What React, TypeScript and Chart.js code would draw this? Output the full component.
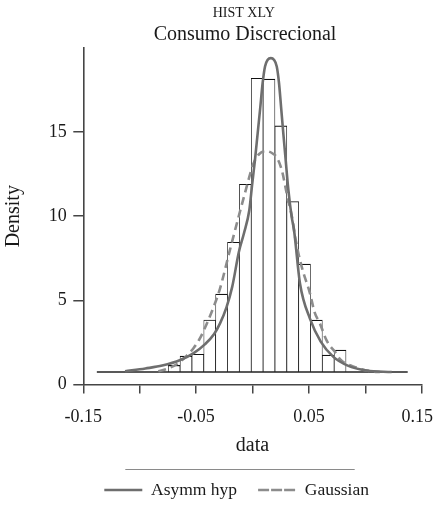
import React, { useEffect, useRef } from 'react';
import { Chart, registerables } from 'chart.js';

Chart.register(...registerables);

// trailing spaces only nudge the centred titles left, as in the reference
const chartTitle = 'HIST XLY     ';
const chartSubtitle = 'Consumo Discrecional   ';
const xAxisTitle = 'data';
const yAxisTitle = 'Density';
const seriesNames = ['Asymm hyp', 'Gaussian'];

// histogram bins (edges) and heights
const binEdges = [
  -0.0747, -0.0642, -0.0537, -0.0432, -0.0327, -0.0222, -0.0116, -0.0011,
  0.0094, 0.0199, 0.0304, 0.0409, 0.0514, 0.0619, 0.0724, 0.0829,
];
const binDensity = [
  1.13, 1.68, 1.79, 3.83, 5.37, 8.45, 11.9, 18.2, 18.15, 15.37, 10.87, 7.15, 3.82, 1.74, 2.04,
];
const histBase = 0.74;
const baselineX = [-0.138, 0.1376];

// fitted densities
const asymX = [
  -0.113, -0.095, -0.08, -0.064, -0.0525, -0.042, -0.034, -0.0288, -0.023, -0.018, -0.012,
  -0.0075, -0.0028, -0.0002, 0.0022, 0.0046, 0.0067, 0.009, 0.0111, 0.0135, 0.0163, 0.019,
  0.0215, 0.0235, 0.0253, 0.0273, 0.0294, 0.0318, 0.0347, 0.0368, 0.0421, 0.051, 0.0605,
  0.0717, 0.0845, 0.101, 0.1234,
];
const asymY = [
  0.78, 0.95, 1.12, 1.45, 1.85, 2.4, 3.0, 3.63, 4.6, 5.8, 7.9,
  9.0, 10.37, 11.96, 13.35, 14.94, 16.33, 17.92, 18.9, 19.3, 19.4, 19.3,
  18.9, 17.92, 16.52, 14.94, 13.35, 11.57, 9.98, 9.18, 6.0, 3.9, 2.55,
  1.64, 1.12, 0.83, 0.74,
];
const gaussX = [
  -0.0835, -0.075, -0.0672, -0.06, -0.0525, -0.0465, -0.0406, -0.0345, -0.0288, -0.02,
  -0.0126, -0.0067, 0.0007, 0.006, 0.0125, 0.0185, 0.0215, 0.0259, 0.0303, 0.0355, 0.0377,
  0.0436, 0.051, 0.055, 0.0599, 0.0658, 0.0747, 0.0776, 0.0924, 0.107, 0.113,
];
const gaussY = [
  0.78, 0.95, 1.2, 1.6, 2.14, 2.75, 3.6, 4.6, 5.7, 8.0,
  9.9, 11.37, 13.1, 13.7, 13.87, 13.7, 13.5, 12.76, 11.37, 9.78, 8.79,
  7.0, 5.4, 4.3, 3.6, 2.6, 1.8, 1.5, 1.0, 0.77, 0.74,
];

const xTickMarks = [-0.15, -0.1, -0.05, 0, 0.05, 0.1, 0.15];
const xTickValues = [-0.15, -0.05, 0.05, 0.15];
const xTickLabels = ['-0.15', '-0.05', '0.05', '0.15  '];
const yTickValues = [0, 5, 10, 15];
const yTickLabels = ['0', '5', '10', '15'];

const FONT = 'Liberation Serif';
const INK = '#1a1a1a';
const AXIS = '#454545';

const separatorPlugin = {
  id: 'legendSeparator',
  afterDraw(chart: any) {
    const lg = chart.legend;
    const ca = chart.chartArea;
    if (!lg || !ca) return;
    const ctx = chart.ctx;
    ctx.save();
    ctx.strokeStyle = '#8a8a8a';
    ctx.lineWidth = 1;
    ctx.beginPath();
    const y = Math.round(lg.top + 8.75) + 0.5;
    ctx.moveTo(ca.left + 42, y);
    ctx.lineTo(ca.right - 67, y);
    ctx.stroke();
    ctx.restore();
  },
};

function findLabel(values: number[], labels: string[], v: number) {
  const i = values.findIndex((t) => Math.abs(t - v) < 1e-9);
  return i >= 0 ? labels[i] : '';
}

export default function App() {
  const ref = useRef<HTMLCanvasElement | null>(null);

  useEffect(() => {
    document.body.style.margin = '0';
    document.body.style.overflow = 'hidden';
    if (!ref.current) return;

    const bars = binDensity.map((d, i) => ({
      x: (binEdges[i] + binEdges[i + 1]) / 2,
      y: [histBase, d],
    }));

    const chart = new Chart(ref.current, {
      type: 'bar',
      data: {
        datasets: [
          {
            type: 'line',
            label: seriesNames[0],
            data: asymX.map((x, i) => ({ x, y: asymY[i] })),
            borderColor: '#6e6e6e',
            backgroundColor: 'transparent',
            borderWidth: 2.6,
            pointRadius: 0,
            cubicInterpolationMode: 'monotone',
            fill: false,
          } as any,
          {
            type: 'line',
            label: seriesNames[1],
            data: gaussX.map((x, i) => ({ x, y: gaussY[i] })),
            borderColor: '#8c8c8c',
            backgroundColor: 'transparent',
            borderWidth: 2.6,
            borderDash: [8, 5],
            pointRadius: 0,
            cubicInterpolationMode: 'monotone',
            fill: false,
          } as any,
          {
            type: 'line',
            label: 'base',
            data: baselineX.map((x) => ({ x, y: histBase })),
            borderColor: '#222222',
            backgroundColor: 'transparent',
            borderWidth: 1.5,
            pointRadius: 0,
            fill: false,
          } as any,
          {
            type: 'bar',
            label: 'hist',
            data: bars as any,
            backgroundColor: '#ffffff',
            borderColor: '#111111',
            borderWidth: { top: 1.1, left: 0.75, right: 0.75, bottom: 0 },
            borderSkipped: false,
            barPercentage: 1,
            categoryPercentage: 1,
          } as any,
        ],
      },
      options: {
        responsive: false,
        animation: false,
        events: [],
        layout: {
          autoPadding: false,
          padding: { left: 0, right: 11.3, top: 0, bottom: -3.75 },
        },
        font: { family: FONT },
        color: INK,
        scales: {
          x: {
            type: 'linear',
            min: -0.15,
            max: 0.15,
            offset: false,
            afterBuildTicks: (scale: any) => {
              scale.ticks = xTickMarks.map((v) => ({ value: v }));
            },
            afterFit: (scale: any) => {
              scale.paddingLeft = 0;
              scale.paddingRight = 0;
            },
            grid: {
              offset: false,
              drawOnChartArea: false,
              drawTicks: true,
              tickLength: 9,
              color: AXIS,
              tickColor: AXIS,
              lineWidth: 1.5,
            },
            border: { display: true, color: AXIS, width: 1.6 },
            ticks: {
              autoSkip: false,
              maxRotation: 0,
              padding: 12.6,
              color: INK,
              font: { family: FONT, size: 18, lineHeight: 1.2 },
              callback: (v: any) => findLabel(xTickValues, xTickLabels, Number(v)),
            },
            title: {
              display: true,
              text: xAxisTitle,
              color: INK,
              font: { family: FONT, size: 20, lineHeight: 0.5 },
              padding: { top: 0, bottom: 10 },
            },
          },
          y: {
            type: 'linear',
            min: 0,
            max: 20,
            afterBuildTicks: (scale: any) => {
              scale.ticks = yTickValues.map((v) => ({ value: v }));
            },
            afterFit: (scale: any) => {
              scale.width = 83.3;
              scale.paddingTop = 0;
              scale.paddingBottom = 0;
            },
            grid: {
              drawOnChartArea: false,
              drawTicks: true,
              tickLength: 10,
              color: AXIS,
              tickColor: AXIS,
              lineWidth: 1.5,
            },
            border: { display: true, color: AXIS, width: 1.6 },
            ticks: {
              padding: 6.6,
              color: INK,
              font: { family: FONT, size: 18, lineHeight: 1.2 },
              callback: (v: any) => findLabel(yTickValues, yTickLabels, Number(v)),
            },
            title: {
              display: true,
              text: yAxisTitle,
              color: INK,
              font: { family: FONT, size: 20, lineHeight: 1.2 },
              padding: { top: 1.3, bottom: 0 },
            },
          },
        },
        plugins: {
          title: {
            display: true,
            text: chartTitle,
            fullSize: false,
            color: INK,
            font: { family: FONT, size: 14, weight: 'normal', lineHeight: 1.2 },
            padding: { top: 5.2, bottom: 0 },
          },
          subtitle: {
            display: true,
            text: chartSubtitle,
            fullSize: false,
            color: INK,
            font: { family: FONT, size: 20, weight: 'normal', lineHeight: 1.2 },
            padding: { top: 1, bottom: 1 },
          },
          legend: {
            display: true,
            position: 'bottom',
            align: 'start',
            fullSize: false,
            labels: {
              boxWidth: 38,
              boxHeight: 0,
              padding: 21,
              color: INK,
              font: { family: FONT, size: 17.5 },
              filter: (item: any) => item.datasetIndex < 2,
            },
          },
          tooltip: { enabled: false },
        },
      } as any,
      plugins: [separatorPlugin],
    });

    return () => chart.destroy();
  }, []);

  return (
    <div style={{ position: 'fixed', left: 0, top: 0, width: 433, height: 505, background: '#ffffff' }}>
      <canvas ref={ref} width={433} height={505} style={{ width: 433, height: 505, display: 'block' }} />
    </div>
  );
}
